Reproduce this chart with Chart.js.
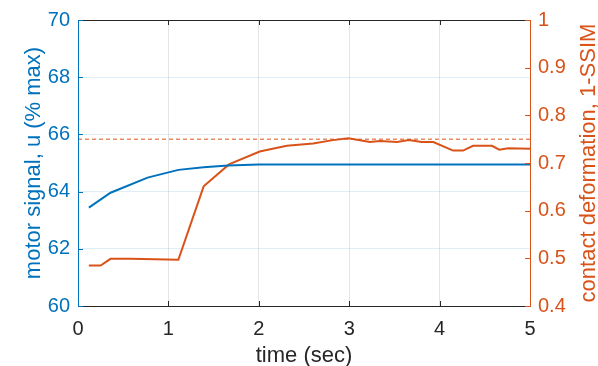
<!DOCTYPE html>
<html>
<head>
<meta charset="utf-8">
<script src="https://cdn.jsdelivr.net/npm/chart.js@4/dist/chart.umd.min.js"></script>
<style>
  html, body { margin: 0; padding: 0; background: #fff; }
</style>
</head>
<body>
<canvas id="chart" width="598" height="366"></canvas>
<script>
// motor signal (left axis)
const motorTime = [0.12, 0.36, 0.77, 1.11, 1.39, 1.66, 2.0, 2.5, 3.0, 3.5, 4.0, 4.5, 5.0];
const motorSignal = [63.44, 63.96, 64.49, 64.76, 64.85, 64.91, 64.95, 64.95, 64.95, 64.95, 64.95, 64.95, 64.95];

// contact deformation (right axis)
const ssimTime = [0.12, 0.25, 0.36, 0.58, 1.11, 1.39, 1.67, 2.01, 2.31, 2.60, 2.82, 2.99, 3.23, 3.34, 3.53, 3.66, 3.80, 3.93, 4.15, 4.26, 4.37, 4.58, 4.66, 4.76, 5.0];
const ssimValue = [0.485, 0.485, 0.499, 0.499, 0.497, 0.651, 0.697, 0.724, 0.736, 0.741, 0.748, 0.752, 0.744, 0.746, 0.744, 0.748, 0.744, 0.744, 0.726, 0.726, 0.736, 0.736, 0.728, 0.731, 0.730];

// reference level (dashed)
const refLevel = 0.75;
const refSpan = [0, 5];

const xTicks = [0, 1, 2, 3, 4, 5];
const leftTicks = [60, 62, 64, 66, 68, 70];
const rightTicks = [0.4, 0.5, 0.6, 0.7, 0.8, 0.9, 1];
const rightTitle = 'contact deformation, 1-SSIM';

const BLUE = '#0072BD';
const ORANGE = '#D95319';
const DARK = '#262626';
const FONT = "'Liberation Sans', Arial, sans-serif";

const toPoints = (xs, ys) => xs.map((x, i) => ({ x: x, y: ys[i] }));

// MATLAB style box with inward ticks, plus the right label (reads bottom to top)
const framePlugin = {
    id: 'frame',
    afterDraw(chart) {
        const { ctx, chartArea: a, scales } = chart;
        const tl = 5;
        ctx.save();
        ctx.lineWidth = 1;
        // top + bottom
        ctx.strokeStyle = DARK;
        ctx.beginPath();
        ctx.moveTo(a.left, a.top + 0.5); ctx.lineTo(a.right, a.top + 0.5);
        ctx.moveTo(a.left, a.bottom + 0.5); ctx.lineTo(a.right, a.bottom + 0.5);
        xTicks.forEach(t => {
            const px = Math.round(scales.x.getPixelForValue(t)) + 0.5;
            ctx.moveTo(px, a.bottom); ctx.lineTo(px, a.bottom - tl);
            ctx.moveTo(px, a.top); ctx.lineTo(px, a.top + tl);
        });
        ctx.stroke();
        // left axis
        ctx.strokeStyle = BLUE;
        ctx.beginPath();
        ctx.moveTo(a.left + 0.5, a.top); ctx.lineTo(a.left + 0.5, a.bottom + 1);
        leftTicks.forEach(t => {
            const py = Math.round(scales.y.getPixelForValue(t)) + 0.5;
            ctx.moveTo(a.left, py); ctx.lineTo(a.left + tl, py);
        });
        ctx.stroke();
        // right axis
        ctx.strokeStyle = ORANGE;
        ctx.beginPath();
        ctx.moveTo(a.right + 0.5, a.top); ctx.lineTo(a.right + 0.5, a.bottom + 1);
        rightTicks.forEach(t => {
            const py = Math.round(scales.y1.getPixelForValue(t)) + 0.5;
            ctx.moveTo(a.right, py); ctx.lineTo(a.right - tl, py);
        });
        ctx.stroke();

        ctx.translate(chart.width - 9, (a.top + a.bottom) / 2);
        ctx.rotate(-Math.PI / 2);
        ctx.font = '22px ' + FONT;
        ctx.fillStyle = ORANGE;
        ctx.textAlign = 'center';
        ctx.textBaseline = 'middle';
        ctx.fillText(rightTitle, 0, 0);
        ctx.restore();
    }
};

new Chart(document.getElementById('chart'), {
    type: 'line',
    data: {
        datasets: [
            {
                label: 'motor signal',
                data: toPoints(motorTime, motorSignal),
                yAxisID: 'y',
                borderColor: BLUE,
                borderWidth: 2,
                pointRadius: 0,
                tension: 0
            },
            {
                label: '1-SSIM',
                data: toPoints(ssimTime, ssimValue),
                yAxisID: 'y1',
                borderColor: ORANGE,
                borderWidth: 2,
                pointRadius: 0,
                tension: 0
            },
            {
                label: 'reference',
                data: toPoints(refSpan, [refLevel, refLevel]),
                yAxisID: 'y1',
                borderColor: ORANGE,
                borderWidth: 1,
                borderDash: [4, 3],
                pointRadius: 0
            }
        ]
    },
    options: {
        responsive: false,
        animation: false,
        layout: { padding: { top: 20, left: 0, right: 0, bottom: 0 } },
        plugins: { legend: { display: false }, tooltip: { enabled: false } },
        scales: {
            x: {
                type: 'linear',
                min: 0, max: 5,
                afterBuildTicks: s => { s.ticks = xTicks.map(v => ({ value: v })); },
                afterFit: s => { s.height = 60; },
                grid: { color: 'rgba(38,38,38,0.12)', drawTicks: false },
                border: { display: false },
                ticks: { color: DARK, padding: 11, font: { family: FONT, size: 20 } },
                title: { display: true, text: 'time (sec)', color: DARK, padding: { top: 0, bottom: -1 }, font: { family: FONT, size: 22, lineHeight: 1 } }
            },
            y: {
                position: 'left',
                min: 60, max: 70,
                afterBuildTicks: s => { s.ticks = leftTicks.map(v => ({ value: v })); },
                afterFit: s => { s.width = 78; },
                grid: { color: 'rgba(0,114,189,0.12)', drawTicks: false },
                border: { display: false },
                ticks: { color: BLUE, padding: 8, font: { family: FONT, size: 20 } },
                title: { display: true, text: 'motor signal, u (% max)', color: BLUE, padding: { top: 23, bottom: 0 }, font: { family: FONT, size: 22, lineHeight: 1 } }
            },
            y1: {
                position: 'right',
                min: 0.4, max: 1,
                afterBuildTicks: s => { s.ticks = rightTicks.map(v => ({ value: v })); },
                afterFit: s => { s.width = 68; },
                grid: { display: false, drawTicks: false },
                border: { display: false },
                ticks: { color: ORANGE, padding: 8, font: { family: FONT, size: 20 }, callback: v => String(Math.round(v * 10) / 10) },
                title: { display: false }
            }
        }
    },
    plugins: [framePlugin]
});
</script>
</body>
</html>
